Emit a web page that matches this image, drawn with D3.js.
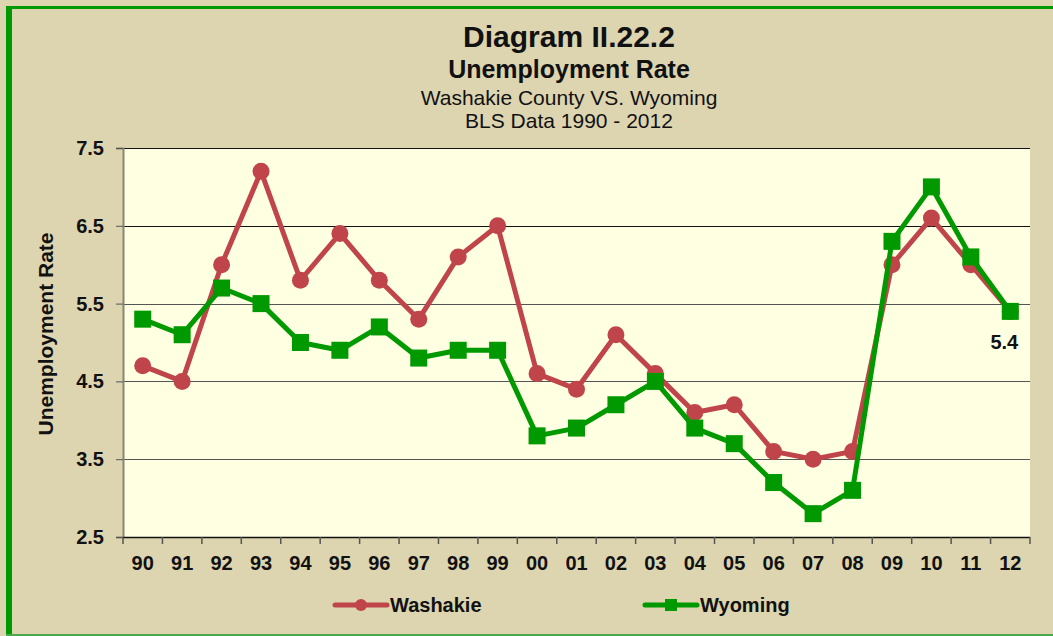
<!DOCTYPE html>
<html>
<head>
<meta charset="utf-8">
<script src="https://cdn.jsdelivr.net/npm/d3@7"></script>
<style>
  html, body { margin: 0; padding: 0; background: #fff; }
  svg { display: block; font-family: Arial, "Liberation Sans", sans-serif; }
</style>
</head>
<body>
<svg id="chart" width="1053" height="636"></svg>
<script>
// Unemployment rate, annual averages (BLS)
const years = ["90","91","92","93","94","95","96","97","98","99","00","01","02","03","04","05","06","07","08","09","10","11","12"];
const washakie = [4.7, 4.5, 6.0, 7.2, 5.8, 6.4, 5.8, 5.3, 6.1, 6.5, 4.6, 4.4, 5.1, 4.6, 4.1, 4.2, 3.6, 3.5, 3.6, 6.0, 6.6, 6.0, 5.4];
const wyoming  = [5.3, 5.1, 5.7, 5.5, 5.0, 4.9, 5.2, 4.8, 4.9, 4.9, 3.8, 3.9, 4.2, 4.5, 3.9, 3.7, 3.2, 2.8, 3.1, 6.3, 7.0, 6.1, 5.4];
const yTicks = [2.5, 3.5, 4.5, 5.5, 6.5, 7.5];
const titleLines = ["Diagram II.22.2", "Unemployment Rate", "Washakie County VS. Wyoming", "BLS Data 1990 - 2012"];

const W = 1053, H = 636;
const plot = { left: 123, right: 1030, top: 148, bottom: 537 };
const RED = "#C0454A", GREEN = "#009900";
const FONT = 'Arial, "Liberation Sans", sans-serif';

const svg = d3.select("#chart");

// page background and frame
svg.append("rect").attr("width", W).attr("height", H).attr("fill", "#DDD5B0");
svg.append("rect").attr("x", 6).attr("y", 6).attr("width", 6).attr("height", H - 6).attr("fill", GREEN);
svg.append("rect").attr("x", 6).attr("y", 6).attr("width", W - 6).attr("height", 3).attr("fill", GREEN);
svg.append("rect").attr("x", 6).attr("y", H - 2).attr("width", W - 6).attr("height", 2).attr("fill", "#4CA64C");

// titles
const tx = 569;
svg.append("text").attr("x", tx).attr("y", 47).attr("text-anchor", "middle")
  .attr("font-size", 30).attr("font-weight", "bold").attr("fill", "#111").text(titleLines[0]);
svg.append("text").attr("x", tx).attr("y", 78).attr("text-anchor", "middle")
  .attr("font-size", 25).attr("font-weight", "bold").attr("fill", "#111").text(titleLines[1]);
svg.append("text").attr("x", tx).attr("y", 105).attr("text-anchor", "middle")
  .attr("font-size", 21).attr("fill", "#111").text(titleLines[2]);
svg.append("text").attr("x", tx).attr("y", 128).attr("text-anchor", "middle")
  .attr("font-size", 21).attr("fill", "#111").text(titleLines[3]);

// scales
const x = d3.scaleBand().domain(years).range([plot.left, plot.right]).paddingInner(0).paddingOuter(0);
const y = d3.scaleLinear().domain([2.5, 7.5]).range([plot.bottom, plot.top]);
const cx = d => x(d) + x.bandwidth() / 2;

// plot area
svg.append("rect").attr("x", plot.left).attr("y", plot.top)
  .attr("width", plot.right - plot.left).attr("height", plot.bottom - plot.top).attr("fill", "#FFFFE2");

// horizontal gridlines
svg.append("g").selectAll("line").data(yTicks.filter(t => t > 2.5)).join("line")
  .attr("x1", plot.left).attr("x2", plot.right)
  .attr("y1", d => Math.round(y(d)) + 0.5).attr("y2", d => Math.round(y(d)) + 0.5)
  .attr("stroke", d => d >= 6.5 ? "#111" : "#555").attr("stroke-width", 1.2);

// y axis
const yAxis = svg.append("g").attr("transform", `translate(${plot.left},0)`)
  .call(d3.axisLeft(y).tickValues(yTicks).tickFormat(d3.format(".1f")).tickSize(7).tickPadding(12));
yAxis.select(".domain").attr("stroke", "#8A8670").attr("stroke-width", 2);
yAxis.selectAll(".tick line").attr("stroke", "#555");
yAxis.selectAll(".tick text").attr("font-size", 20).attr("font-weight", "bold").attr("fill", "#111")
  .attr("font-family", FONT);

// x axis: ticks on category boundaries
const xAxisG = svg.append("g").attr("transform", `translate(0,${plot.bottom})`);
xAxisG.append("line").attr("x1", plot.left).attr("x2", plot.right).attr("y1", 0.5).attr("y2", 0.5)
  .attr("stroke", "#111").attr("stroke-width", 1.5);
const bounds = years.map(d => x(d)).concat([plot.right]);
xAxisG.selectAll("line.tk").data(bounds).join("line").attr("class", "tk")
  .attr("x1", d => d).attr("x2", d => d).attr("y1", 0).attr("y2", 7)
  .attr("stroke", "#555").attr("stroke-width", 1.5);
xAxisG.selectAll("text").data(years).join("text")
  .attr("x", d => cx(d)).attr("y", 33).attr("text-anchor", "middle")
  .attr("font-size", 20).attr("font-weight", "bold").attr("fill", "#111").text(d => d);

// y axis title
svg.append("text").attr("transform", "translate(53,334) rotate(-90)").attr("text-anchor", "middle")
  .attr("font-size", 21).attr("font-weight", "bold").attr("fill", "#111").text("Unemployment Rate");

// series
const line = d3.line().x((d, i) => cx(years[i])).y(d => y(d));

svg.append("path").datum(washakie).attr("d", line).attr("fill", "none")
  .attr("stroke", RED).attr("stroke-width", 5).attr("stroke-linejoin", "round");
svg.append("g").selectAll("circle").data(washakie).join("circle")
  .attr("cx", (d, i) => cx(years[i])).attr("cy", d => y(d)).attr("r", 8.5).attr("fill", RED);

const sq = 17;
svg.append("path").datum(wyoming).attr("d", line).attr("fill", "none")
  .attr("stroke", GREEN).attr("stroke-width", 5).attr("stroke-linejoin", "round");
svg.append("g").selectAll("rect").data(wyoming).join("rect")
  .attr("x", (d, i) => cx(years[i]) - sq / 2).attr("y", d => y(d) - sq / 2)
  .attr("width", sq).attr("height", sq).attr("fill", GREEN);

// value label on the last point
const last = wyoming.length - 1;
svg.append("text").attr("x", cx(years[last]) - 6).attr("y", y(wyoming[last]) + 38)
  .attr("text-anchor", "middle").attr("font-size", 20).attr("font-weight", "bold").attr("fill", "#111")
  .text(d3.format(".1f")(wyoming[last]));

// legend
const legend = [
  { name: "Washakie", color: RED, shape: "circle", x0: 335 },
  { name: "Wyoming", color: GREEN, shape: "square", x0: 645 }
];
const lg = svg.append("g");
legend.forEach(l => {
  const g = lg.append("g").attr("transform", `translate(${l.x0},605)`);
  g.append("line").attr("x1", 0).attr("x2", 52).attr("y1", 0).attr("y2", 0)
    .attr("stroke", l.color).attr("stroke-width", 5).attr("stroke-linecap", "round");
  if (l.shape === "circle") g.append("circle").attr("cx", 26).attr("cy", 0).attr("r", 6).attr("fill", l.color);
  else g.append("rect").attr("x", 20).attr("y", -6).attr("width", 12).attr("height", 12).attr("fill", l.color);
  g.append("text").attr("x", 55).attr("y", 7).attr("font-size", 20).attr("font-weight", "bold")
    .attr("fill", "#111").text(l.name);
});
</script>
</body>
</html>
